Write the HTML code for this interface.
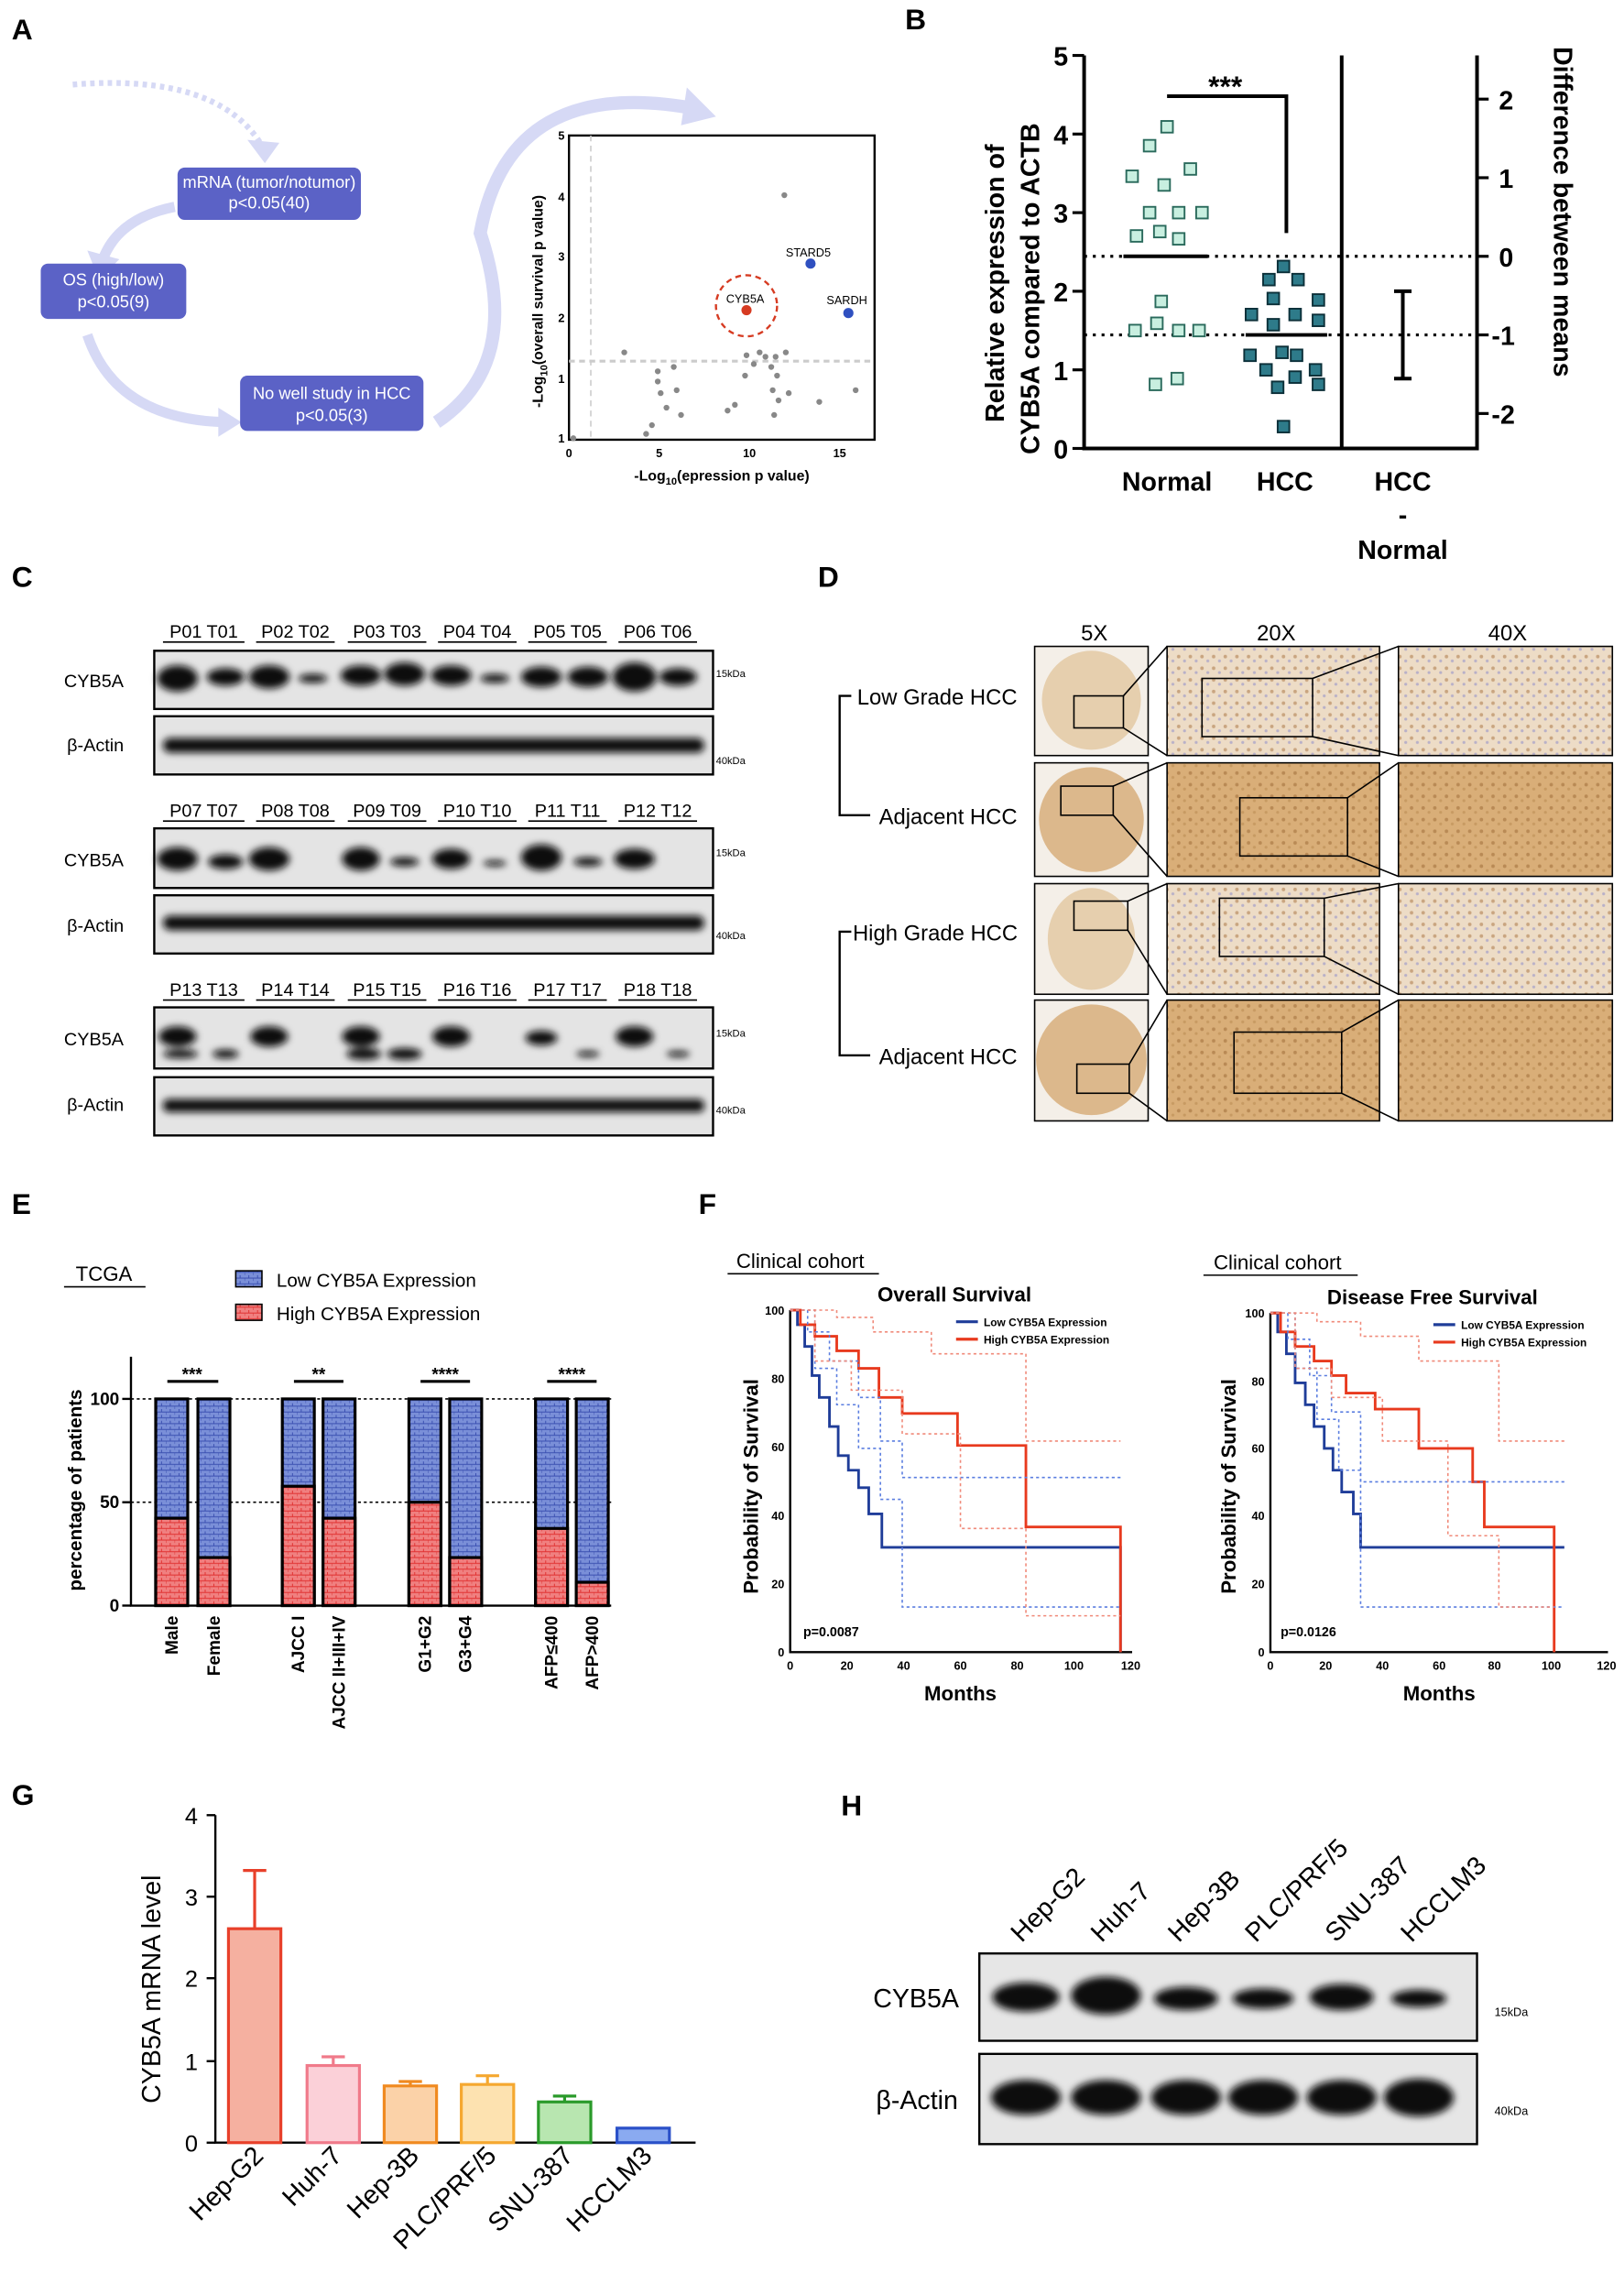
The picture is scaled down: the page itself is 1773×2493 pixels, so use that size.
<!DOCTYPE html>
<html><head><meta charset="utf-8"><style>
html,body{margin:0;padding:0;background:#fff}
svg{display:block}
text{font-family:"Liberation Sans",Arial,sans-serif}
</style></head><body>
<svg width="1773" height="2493" viewBox="0 0 1116 1569" xmlns="http://www.w3.org/2000/svg">
<defs>
<filter id="bl" x="-20%" y="-50%" width="140%" height="200%"><feGaussianBlur stdDeviation="2.5"/></filter>
<pattern id="pb" width="6" height="4" patternUnits="userSpaceOnUse"><rect width="6" height="4" fill="#7a8fd8"/><path d="M0 2H6M3 0V2M0 4V2" stroke="#3a4fb0" stroke-width="0.6"/></pattern>
<pattern id="pr" width="6" height="4" patternUnits="userSpaceOnUse"><rect width="6" height="4" fill="#f08080"/><path d="M0 2H6M3 0V2M0 4V2" stroke="#e03030" stroke-width="0.6"/></pattern>
<pattern id="tan" width="8" height="8" patternUnits="userSpaceOnUse"><rect width="8" height="8" fill="#d9ae78"/><circle cx="2" cy="3" r="1.2" fill="#b98a55"/><circle cx="6" cy="6" r="1" fill="#c79a62"/></pattern>
<pattern id="tanl" width="8" height="8" patternUnits="userSpaceOnUse"><rect width="8" height="8" fill="#eddcc6"/><circle cx="2" cy="3" r="1.2" fill="#c9a580"/><circle cx="6" cy="6" r="1" fill="#b8b0c8"/></pattern>
</defs>
<g font-weight="bold" font-size="20">
<text x="8" y="27">A</text><text x="622" y="20">B</text><text x="8" y="403">C</text><text x="562" y="403">D</text>
<text x="8" y="834">E</text><text x="480" y="834">F</text><text x="8" y="1240">G</text><text x="578" y="1247">H</text>
</g>
<!-- Panel A -->
<g fill="none" stroke="#d6d9f5" stroke-width="7">
<path d="M50 58 Q150 50 180 100" stroke-dasharray="3 3" stroke-width="4"/>
<path d="M120 142 Q80 150 70 180"/>
<path d="M60 230 Q80 290 160 290"/>
<path d="M300 290 Q360 250 330 160 Q350 50 480 75" stroke-width="9"/>
</g>
<g fill="#d6d9f5"><path d="M170 96L192 98L182 112Z"/><path d="M60 172L82 178L68 192Z"/><path d="M150 280L166 290L150 300Z"/><path d="M472 60L492 80L468 86Z"/></g>
<g fill="#5b62c6"><rect x="122" y="115" width="126" height="36" rx="5"/><rect x="28" y="181" width="100" height="38" rx="5"/><rect x="165" y="258" width="126" height="38" rx="5"/></g>
<g fill="#fff" font-size="11.5" text-anchor="middle">
<text x="185" y="129">mRNA (tumor/notumor)</text><text x="185" y="143">p&lt;0.05(40)</text>
<text x="78" y="196">OS (high/low)</text><text x="78" y="211">p&lt;0.05(9)</text>
<text x="228" y="274">No well study in HCC</text><text x="228" y="289">p&lt;0.05(3)</text>
</g>
<rect x="391" y="93" width="210" height="209" fill="none" stroke="#000" stroke-width="1.5"/>
<line x1="406" y1="93" x2="406" y2="302" stroke="#ccc" stroke-dasharray="4 3"/>
<line x1="391" y1="248" x2="601" y2="248" stroke="#ccc" stroke-dasharray="4 3" stroke-width="2"/>
<g fill="#888">
<circle cx="539" cy="134" r="2"/><circle cx="429" cy="242" r="2"/><circle cx="452" cy="255" r="2"/><circle cx="452" cy="262" r="2"/><circle cx="454" cy="270" r="2"/><circle cx="458" cy="280" r="2"/><circle cx="465" cy="268" r="2"/><circle cx="468" cy="285" r="2"/><circle cx="448" cy="292" r="2"/><circle cx="463" cy="252" r="2"/><circle cx="500" cy="282" r="2"/><circle cx="505" cy="278" r="2"/><circle cx="513" cy="244" r="2"/><circle cx="512" cy="258" r="2"/><circle cx="518" cy="250" r="2"/><circle cx="522" cy="242" r="2"/><circle cx="526" cy="245" r="2"/><circle cx="530" cy="252" r="2"/><circle cx="534" cy="258" r="2"/><circle cx="533" cy="245" r="2"/><circle cx="531" cy="268" r="2"/><circle cx="535" cy="275" r="2"/><circle cx="540" cy="242" r="2"/><circle cx="542" cy="270" r="2"/><circle cx="563" cy="276" r="2"/><circle cx="588" cy="268" r="2"/><circle cx="532" cy="285" r="2"/><circle cx="444" cy="298" r="2"/><circle cx="394" cy="301" r="2"/>
</g>
<circle cx="513" cy="213" r="3.5" fill="#d63b22"/><circle cx="513" cy="210" r="21" fill="none" stroke="#d63b22" stroke-width="1.5" stroke-dasharray="4 3"/>
<circle cx="557" cy="181" r="3.5" fill="#2f50c0"/><circle cx="583" cy="215" r="3.5" fill="#2f50c0"/>
<g font-size="8"><text x="499" y="208">CYB5A</text><text x="540" y="176">STARD5</text><text x="568" y="209">SARDH</text></g>
<g font-size="8" font-weight="bold" text-anchor="end"><text x="388" y="96">5</text><text x="388" y="138">4</text><text x="388" y="179">3</text><text x="388" y="221">2</text><text x="388" y="263">1</text><text x="388" y="304">1</text></g>
<g font-size="8" font-weight="bold" text-anchor="middle"><text x="391" y="314">0</text><text x="453" y="314">5</text><text x="515" y="314">10</text><text x="577" y="314">15</text></g>
<text x="496" y="330" font-size="10" font-weight="bold" text-anchor="middle">-Log<tspan font-size="7" dy="3">10</tspan><tspan dy="-3">(epression p value)</tspan></text>
<text transform="translate(373 280) rotate(-90)" font-size="10" font-weight="bold">-Log<tspan font-size="7" dy="3">10</tspan><tspan dy="-3">(overall survival p value)</tspan></text>
<!-- Panel B -->
<g stroke="#000" stroke-width="2.5" fill="none"><path d="M745 38V308H1015V38"/><line x1="922" y1="38" x2="922" y2="308"/></g>
<g stroke="#000" stroke-width="2"><line x1="737" y1="38" x2="745" y2="38"/><line x1="737" y1="92" x2="745" y2="92"/><line x1="737" y1="146" x2="745" y2="146"/><line x1="737" y1="200" x2="745" y2="200"/><line x1="737" y1="254" x2="745" y2="254"/><line x1="737" y1="308" x2="745" y2="308"/>
<line x1="1015" y1="68" x2="1023" y2="68"/><line x1="1015" y1="122" x2="1023" y2="122"/><line x1="1015" y1="176" x2="1023" y2="176"/><line x1="1015" y1="230" x2="1023" y2="230"/><line x1="1015" y1="284" x2="1023" y2="284"/></g>
<g font-size="18" font-weight="bold" text-anchor="end"><text x="734" y="45">5</text><text x="734" y="99">4</text><text x="734" y="153">3</text><text x="734" y="207">2</text><text x="734" y="261">1</text><text x="734" y="315">0</text></g>
<g font-size="18" font-weight="bold"><text x="1030" y="75">2</text><text x="1030" y="129">1</text><text x="1030" y="183">0</text><text x="1025" y="237">-1</text><text x="1025" y="291">-2</text></g>
<g stroke="#000" stroke-width="2" stroke-dasharray="2 4"><line x1="745" y1="176" x2="1015" y2="176"/><line x1="745" y1="230" x2="1015" y2="230"/></g>
<g fill="#c8efe0" stroke="#2a6a5c" stroke-width="1.2">
<rect x="798" y="83" width="8" height="8"/><rect x="786" y="96" width="8" height="8"/><rect x="814" y="112" width="8" height="8"/><rect x="774" y="117" width="8" height="8"/><rect x="796" y="123" width="8" height="8"/><rect x="806" y="142" width="8" height="8"/><rect x="822" y="142" width="8" height="8"/><rect x="786" y="142" width="8" height="8"/><rect x="793" y="155" width="8" height="8"/><rect x="777" y="158" width="8" height="8"/><rect x="806" y="160" width="8" height="8"/><rect x="794" y="203" width="8" height="8"/><rect x="791" y="218" width="8" height="8"/><rect x="776" y="223" width="8" height="8"/><rect x="806" y="223" width="8" height="8"/><rect x="820" y="223" width="8" height="8"/><rect x="790" y="260" width="8" height="8"/><rect x="805" y="256" width="8" height="8"/>
</g>
<g fill="#2e7b8a" stroke="#0b2f38" stroke-width="1.2">
<rect x="878" y="179" width="8" height="8"/><rect x="868" y="188" width="8" height="8"/><rect x="888" y="188" width="8" height="8"/><rect x="871" y="201" width="8" height="8"/><rect x="902" y="202" width="8" height="8"/><rect x="856" y="212" width="8" height="8"/><rect x="886" y="212" width="8" height="8"/><rect x="902" y="216" width="8" height="8"/><rect x="871" y="219" width="8" height="8"/><rect x="855" y="240" width="8" height="8"/><rect x="877" y="238" width="8" height="8"/><rect x="887" y="240" width="8" height="8"/><rect x="900" y="250" width="8" height="8"/><rect x="866" y="250" width="8" height="8"/><rect x="886" y="255" width="8" height="8"/><rect x="874" y="262" width="8" height="8"/><rect x="902" y="260" width="8" height="8"/><rect x="878" y="289" width="8" height="8"/>
</g>
<g stroke="#000" stroke-width="2.5" fill="none"><line x1="772" y1="176" x2="830" y2="176"/><line x1="856" y1="230" x2="912" y2="230"/><path d="M802 66H884V160"/><path d="M958 200H970M964 200V260M958 260H970"/></g>
<text x="842" y="66" font-size="20" font-weight="bold" text-anchor="middle">***</text>
<g font-size="18" font-weight="bold" text-anchor="middle"><text x="802" y="337">Normal</text><text x="883" y="337">HCC</text><text x="964" y="337">HCC</text><text x="964" y="360">-</text><text x="964" y="384">Normal</text></g>
<text transform="translate(690 290) rotate(-90)" font-size="18" font-weight="bold">Relative expression of</text>
<text transform="translate(714 312) rotate(-90)" font-size="18" font-weight="bold">CYB5A compared to ACTB</text>
<text transform="translate(1068 32) rotate(90)" font-size="18" font-weight="bold">Difference between means</text>
<!-- Panel C -->
<g font-size="12.5">
<g text-anchor="middle">
<text x="140" y="438">P01 T01</text><text x="203" y="438">P02 T02</text><text x="266" y="438">P03 T03</text><text x="328" y="438">P04 T04</text><text x="390" y="438">P05 T05</text><text x="452" y="438">P06 T06</text>
<text x="140" y="561">P07 T07</text><text x="203" y="561">P08 T08</text><text x="266" y="561">P09 T09</text><text x="328" y="561">P10 T10</text><text x="390" y="561">P11 T11</text><text x="452" y="561">P12 T12</text>
<text x="140" y="684">P13 T13</text><text x="203" y="684">P14 T14</text><text x="266" y="684">P15 T15</text><text x="328" y="684">P16 T16</text><text x="390" y="684">P17 T17</text><text x="452" y="684">P18 T18</text>
</g>
<text x="44" y="472">CYB5A</text><text x="46" y="516">β-Actin</text><text x="44" y="595">CYB5A</text><text x="46" y="640">β-Actin</text><text x="44" y="718">CYB5A</text><text x="46" y="763">β-Actin</text>
</g>
<g stroke="#000"><path d="M112 441H168M176 441H230M239 441H293M301 441H355M363 441H417M425 441H479M112 564H168M176 564H230M239 564H293M301 564H355M363 564H417M425 564H479M112 687H168M176 687H230M239 687H293M301 687H355M363 687H417M425 687H479"/></g>
<g font-size="7"><text x="492" y="465">15kDa</text><text x="492" y="525">40kDa</text><text x="492" y="588">15kDa</text><text x="492" y="645">40kDa</text><text x="492" y="712">15kDa</text><text x="492" y="765">40kDa</text></g>
<g fill="#e4e4e4" stroke="#000" stroke-width="1.5">
<rect x="106" y="447" width="384" height="40"/><rect x="106" y="492" width="384" height="40"/><rect x="106" y="569" width="384" height="41"/><rect x="106" y="615" width="384" height="40"/><rect x="106" y="692" width="384" height="42"/><rect x="106" y="740" width="384" height="40"/>
</g>
<g fill="#111" filter="url(#bl)">
<ellipse cx="122" cy="466" rx="14" ry="9"/><ellipse cx="155" cy="465" rx="13" ry="6"/><ellipse cx="185" cy="465" rx="14" ry="8"/><ellipse cx="215" cy="466" rx="10" ry="3"/><ellipse cx="248" cy="464" rx="14" ry="7"/><ellipse cx="278" cy="463" rx="14" ry="8"/><ellipse cx="310" cy="464" rx="14" ry="7"/><ellipse cx="340" cy="466" rx="10" ry="3"/><ellipse cx="372" cy="465" rx="14" ry="7"/><ellipse cx="404" cy="465" rx="14" ry="7"/><ellipse cx="436" cy="465" rx="15" ry="10"/><ellipse cx="466" cy="465" rx="13" ry="6"/>
<rect x="112" y="507" width="372" height="10" rx="5"/>
<ellipse cx="122" cy="590" rx="14" ry="8"/><ellipse cx="155" cy="592" rx="12" ry="5"/><ellipse cx="185" cy="590" rx="14" ry="8"/><ellipse cx="248" cy="590" rx="13" ry="8"/><ellipse cx="278" cy="592" rx="10" ry="3"/><ellipse cx="310" cy="590" rx="13" ry="7"/><ellipse cx="340" cy="593" rx="8" ry="2"/><ellipse cx="372" cy="589" rx="14" ry="9"/><ellipse cx="404" cy="592" rx="10" ry="3"/><ellipse cx="436" cy="590" rx="14" ry="7"/>
<rect x="112" y="629" width="372" height="10" rx="5"/>
<ellipse cx="122" cy="712" rx="13" ry="7"/><ellipse cx="124" cy="724" rx="12" ry="3"/><ellipse cx="155" cy="724" rx="9" ry="3"/><ellipse cx="185" cy="712" rx="13" ry="7"/><ellipse cx="248" cy="712" rx="13" ry="7"/><ellipse cx="250" cy="724" rx="12" ry="4"/><ellipse cx="278" cy="724" rx="12" ry="4"/><ellipse cx="310" cy="712" rx="13" ry="7"/><ellipse cx="372" cy="713" rx="11" ry="5"/><ellipse cx="404" cy="724" rx="8" ry="2"/><ellipse cx="436" cy="712" rx="13" ry="7"/><ellipse cx="466" cy="724" rx="8" ry="2"/>
<rect x="112" y="755" width="372" height="9" rx="4"/>
</g>
<!-- Panel D -->
<g font-size="15" text-anchor="middle"><text x="752" y="440">5X</text><text x="877" y="440">20X</text><text x="1036" y="440">40X</text></g>
<g font-size="15"><text x="589" y="484">Low Grade HCC</text><text x="604" y="566">Adjacent HCC</text><text x="586" y="646">High Grade HCC</text><text x="604" y="731">Adjacent HCC</text></g>
<g stroke="#000" stroke-width="1.5" fill="none"><path d="M585 478H577V560H598M585 640H577V725H598"/></g>
<g stroke="#000" stroke-width="1">
<rect x="711" y="444" width="78" height="75" fill="#f4efe8"/><rect x="802" y="444" width="146" height="75" fill="url(#tanl)"/><rect x="961" y="444" width="147" height="75" fill="url(#tanl)"/>
<rect x="711" y="524" width="78" height="78" fill="#f4efe8"/><rect x="802" y="524" width="146" height="78" fill="url(#tan)"/><rect x="961" y="524" width="147" height="78" fill="url(#tan)"/>
<rect x="711" y="607" width="78" height="76" fill="#f4efe8"/><rect x="802" y="607" width="146" height="76" fill="url(#tanl)"/><rect x="961" y="607" width="147" height="76" fill="url(#tanl)"/>
<rect x="711" y="687" width="78" height="83" fill="#f4efe8"/><rect x="802" y="687" width="146" height="83" fill="url(#tan)"/><rect x="961" y="687" width="147" height="83" fill="url(#tan)"/>
</g>
<g fill="#dcb88c" stroke="none"><circle cx="750" cy="481" r="34" fill="#e6cfae"/><circle cx="750" cy="563" r="36"/><ellipse cx="750" cy="645" rx="30" ry="35" fill="#e6cfae"/><circle cx="750" cy="728" r="38"/></g>
<g fill="none" stroke="#000" stroke-width="1"><rect x="738" y="478" width="34" height="22"/><rect x="729" y="540" width="36" height="20"/><rect x="738" y="619" width="37" height="20"/><rect x="740" y="731" width="36" height="20"/>
<rect x="826" y="466" width="76" height="40"/><rect x="852" y="548" width="74" height="40"/><rect x="838" y="617" width="72" height="40"/><rect x="848" y="709" width="74" height="42"/>
<path d="M772 478L802 444M772 500L802 519M765 540L802 524M765 560L802 602M775 619L802 607M775 639L802 683M776 731L802 687M776 751L802 770"/>
<path d="M902 466L961 444M902 506L961 519M926 548L961 524M926 588L961 602M910 617L961 607M910 657L961 683M922 709L961 687M922 751L961 770"/></g>
<!-- Panel E -->
<text x="52" y="880" font-size="14">TCGA</text><line x1="44" y1="884" x2="100" y2="884" stroke="#000"/>
<rect x="162" y="873" width="18" height="11" fill="url(#pb)" stroke="#000"/><rect x="162" y="896" width="18" height="11" fill="url(#pr)" stroke="#000"/>
<text x="190" y="884" font-size="13">Low CYB5A Expression</text><text x="190" y="907" font-size="13">High CYB5A Expression</text>
<g stroke="#000" stroke-width="1.5" fill="none"><path d="M90 932V1103H420"/><line x1="84" y1="961" x2="90" y2="961"/><line x1="84" y1="1032" x2="90" y2="1032"/><line x1="84" y1="1103" x2="90" y2="1103"/></g>
<g stroke="#000" stroke-dasharray="2 2"><line x1="90" y1="961" x2="420" y2="961"/><line x1="90" y1="1032" x2="420" y2="1032"/></g>
<g font-size="12" font-weight="bold" text-anchor="end"><text x="82" y="965">100</text><text x="82" y="1036">50</text><text x="82" y="1107">0</text></g>
<text transform="translate(56 1093) rotate(-90)" font-size="13" font-weight="bold">percentage of patients</text>
<g stroke="#000" stroke-width="2">
<rect x="107" y="961" width="22" height="142" fill="url(#pb)"/><rect x="107" y="1043" width="22" height="60" fill="url(#pr)"/>
<rect x="136" y="961" width="22" height="142" fill="url(#pb)"/><rect x="136" y="1070" width="22" height="33" fill="url(#pr)"/>
<rect x="194" y="961" width="22" height="142" fill="url(#pb)"/><rect x="194" y="1021" width="22" height="82" fill="url(#pr)"/>
<rect x="222" y="961" width="22" height="142" fill="url(#pb)"/><rect x="222" y="1043" width="22" height="60" fill="url(#pr)"/>
<rect x="281" y="961" width="22" height="142" fill="url(#pb)"/><rect x="281" y="1032" width="22" height="71" fill="url(#pr)"/>
<rect x="309" y="961" width="22" height="142" fill="url(#pb)"/><rect x="309" y="1070" width="22" height="33" fill="url(#pr)"/>
<rect x="368" y="961" width="22" height="142" fill="url(#pb)"/><rect x="368" y="1050" width="22" height="53" fill="url(#pr)"/>
<rect x="396" y="961" width="22" height="142" fill="url(#pb)"/><rect x="396" y="1087" width="22" height="16" fill="url(#pr)"/>
</g>
<g stroke="#000" stroke-width="2"><line x1="115" y1="949" x2="150" y2="949"/><line x1="202" y1="949" x2="236" y2="949"/><line x1="289" y1="949" x2="323" y2="949"/><line x1="376" y1="949" x2="410" y2="949"/></g>
<g font-size="12" font-weight="bold" text-anchor="middle"><text x="132" y="948">***</text><text x="219" y="948">**</text><text x="306" y="948">****</text><text x="393" y="948">****</text></g>
<g font-size="12" font-weight="bold" text-anchor="end">
<text transform="translate(122 1110) rotate(-90)">Male</text><text transform="translate(151 1110) rotate(-90)">Female</text><text transform="translate(209 1110) rotate(-90)">AJCC I</text><text transform="translate(237 1110) rotate(-90)">AJCC II+III+IV</text><text transform="translate(296 1110) rotate(-90)">G1+G2</text><text transform="translate(324 1110) rotate(-90)">G3+G4</text><text transform="translate(383 1110) rotate(-90)">AFP≤400</text><text transform="translate(411 1110) rotate(-90)">AFP&gt;400</text>
</g>
<!-- Panel F -->
<g font-size="14"><text x="506" y="871">Clinical cohort</text><text x="834" y="872">Clinical cohort</text></g>
<g stroke="#000"><line x1="500" y1="875" x2="604" y2="875"/><line x1="827" y1="876" x2="933" y2="876"/></g>
<g font-size="14" font-weight="bold"><text x="603" y="894">Overall Survival</text><text x="912" y="896">Disease Free Survival</text></g>
<g>
<g stroke="#000" stroke-width="1.5" fill="none"><path d="M543 900V1135H778"/></g>
<g font-size="8" font-weight="bold" text-anchor="end"><text x="539" y="903">100</text><text x="539" y="950">80</text><text x="539" y="997">60</text><text x="539" y="1044">40</text><text x="539" y="1091">20</text><text x="539" y="1138">0</text></g>
<g font-size="8" font-weight="bold" text-anchor="middle"><text x="543" y="1147">0</text><text x="582" y="1147">20</text><text x="621" y="1147">40</text><text x="660" y="1147">60</text><text x="699" y="1147">80</text><text x="738" y="1147">100</text><text x="777" y="1147">120</text></g>
<text x="660" y="1168" font-size="14" font-weight="bold" text-anchor="middle">Months</text>
<text transform="translate(521 1095) rotate(-90)" font-size="14" font-weight="bold">Probability of Survival</text>
<text x="552" y="1124" font-size="9" font-weight="bold">p=0.0087</text>
<path d="M543 900H548V910H553V925H558V945H563V960H570V980H576V1000H583V1010H590V1022H597V1040H606V1063H616V1063H770V1135" fill="none" stroke="#1f3d99" stroke-width="1.8"/>
<path d="M543 900H550V910H560V918H575V928H590V940H604V960H620V971H640V971H658V993H705V1049H770V1135" fill="none" stroke="#e83a1e" stroke-width="1.8"/>
<path d="M543 900H560V940H575V965H590V995H605V1030H620V1104H770" fill="none" stroke="#5b7ee0" stroke-dasharray="2 2"/>
<path d="M543 900H555V915H570V935H590V960H605V990H620V1015H770" fill="none" stroke="#5b7ee0" stroke-dasharray="2 2"/>
<path d="M543 900H575V905H600V915H640V930H705V990H770" fill="none" stroke="#f08a7a" stroke-dasharray="2 2"/>
<path d="M543 900H560V935H585V955H620V985H660V1050H705V1110H770" fill="none" stroke="#f08a7a" stroke-dasharray="2 2"/>
<g stroke-width="2"><line x1="657" y1="908" x2="672" y2="908" stroke="#1f3d99"/><line x1="657" y1="920" x2="672" y2="920" stroke="#e83a1e"/></g>
<g font-size="7.5" font-weight="bold"><text x="676" y="911">Low  CYB5A Expression</text><text x="676" y="923">High CYB5A Expression</text></g>
</g>
<g>
<g stroke="#000" stroke-width="1.5" fill="none"><path d="M873 902V1135H1105"/></g>
<g font-size="8" font-weight="bold" text-anchor="end"><text x="869" y="905">100</text><text x="869" y="952">80</text><text x="869" y="998">60</text><text x="869" y="1044">40</text><text x="869" y="1091">20</text><text x="869" y="1138">0</text></g>
<g font-size="8" font-weight="bold" text-anchor="middle"><text x="873" y="1147">0</text><text x="911" y="1147">20</text><text x="950" y="1147">40</text><text x="989" y="1147">60</text><text x="1027" y="1147">80</text><text x="1066" y="1147">100</text><text x="1104" y="1147">120</text></g>
<text x="989" y="1168" font-size="14" font-weight="bold" text-anchor="middle">Months</text>
<text transform="translate(849 1095) rotate(-90)" font-size="14" font-weight="bold">Probability of Survival</text>
<text x="880" y="1124" font-size="9" font-weight="bold">p=0.0126</text>
<path d="M873 902H878V915H884V930H890V950H897V965H903V980H910V995H916V1010H922V1025H930V1040H935V1063H1075V1063" fill="none" stroke="#1f3d99" stroke-width="1.8"/>
<path d="M873 902H880V915H890V925H903V935H915V945H925V957H945V968H975V995H1012V1018H1020V1049H1068V1135" fill="none" stroke="#e83a1e" stroke-width="1.8"/>
<path d="M873 902H890V940H905V975H920V1010H935V1104H1075" fill="none" stroke="#5b7ee0" stroke-dasharray="2 2"/>
<path d="M873 902H885V920H900V945H915V970H935V1018H1075" fill="none" stroke="#5b7ee0" stroke-dasharray="2 2"/>
<path d="M873 902H905V908H935V918H975V935H1030V990H1075" fill="none" stroke="#f08a7a" stroke-dasharray="2 2"/>
<path d="M873 902H890V940H915V960H950V990H995V1055H1030V1104H1068" fill="none" stroke="#f08a7a" stroke-dasharray="2 2"/>
<g stroke-width="2"><line x1="985" y1="910" x2="1000" y2="910" stroke="#1f3d99"/><line x1="985" y1="922" x2="1000" y2="922" stroke="#e83a1e"/></g>
<g font-size="7.5" font-weight="bold"><text x="1004" y="913">Low  CYB5A Expression</text><text x="1004" y="925">High CYB5A Expression</text></g>
</g>
<!-- Panel G -->
<g stroke="#000" stroke-width="1.5" fill="none"><path d="M148 1247V1472H478"/>
<line x1="142" y1="1247" x2="148" y2="1247"/><line x1="142" y1="1303" x2="148" y2="1303"/><line x1="142" y1="1359" x2="148" y2="1359"/><line x1="142" y1="1416" x2="148" y2="1416"/><line x1="142" y1="1472" x2="148" y2="1472"/></g>
<g font-size="16" text-anchor="end"><text x="136" y="1253">4</text><text x="136" y="1309">3</text><text x="136" y="1365">2</text><text x="136" y="1422">1</text><text x="136" y="1478">0</text></g>
<text transform="translate(110 1445) rotate(-90)" font-size="18">CYB5A mRNA level</text>
<g stroke-width="2" fill="none">
<rect x="157" y="1325" width="36" height="147" fill="#f5b0a0" stroke="#e8402a"/><path d="M175 1325V1285M167 1285H183" stroke="#e8402a"/>
<rect x="211" y="1419" width="36" height="53" fill="#fbd0d8" stroke="#f07a8a"/><path d="M229 1419V1413M221 1413H237" stroke="#f07a8a"/>
<rect x="264" y="1433" width="36" height="39" fill="#fbd2a8" stroke="#f08a20"/><path d="M282 1433V1430M274 1430H290" stroke="#f08a20"/>
<rect x="317" y="1432" width="36" height="40" fill="#fde2b0" stroke="#f5a830"/><path d="M335 1432V1426M327 1426H343" stroke="#f5a830"/>
<rect x="370" y="1444" width="36" height="28" fill="#b8e6b0" stroke="#2a9a2a"/><path d="M388 1444V1440M380 1440H396" stroke="#2a9a2a"/>
<rect x="424" y="1462" width="36" height="10" fill="#8aaaf0" stroke="#2a50c8"/>
</g>
<g font-size="18" text-anchor="end">
<text transform="translate(182 1482) rotate(-45)">Hep-G2</text><text transform="translate(236 1482) rotate(-45)">Huh-7</text><text transform="translate(289 1482) rotate(-45)">Hep-3B</text><text transform="translate(342 1482) rotate(-45)">PLC/PRF/5</text><text transform="translate(395 1482) rotate(-45)">SNU-387</text><text transform="translate(449 1482) rotate(-45)">HCCLM3</text>
</g>
<!-- Panel H -->
<g font-size="18"><text transform="translate(702 1335) rotate(-45)">Hep-G2</text><text transform="translate(757 1335) rotate(-45)">Huh-7</text><text transform="translate(810 1335) rotate(-45)">Hep-3B</text><text transform="translate(863 1335) rotate(-45)">PLC/PRF/5</text><text transform="translate(918 1335) rotate(-45)">SNU-387</text><text transform="translate(970 1335) rotate(-45)">HCCLM3</text>
<text x="600" y="1379">CYB5A</text><text x="602" y="1449">β-Actin</text></g>
<g font-size="8" font-family="Liberation Serif"><text x="1027" y="1385">15kDa</text><text x="1027" y="1453">40kDa</text></g>
<g stroke="#000" stroke-width="1.5" fill="#e6e6e6"><rect x="673" y="1342" width="342" height="60"/><rect x="673" y="1411" width="342" height="62"/></g>
<g fill="#111" filter="url(#bl)">
<ellipse cx="705" cy="1372" rx="23" ry="10"/><ellipse cx="760" cy="1371" rx="24" ry="13"/><ellipse cx="815" cy="1373" rx="22" ry="8"/><ellipse cx="868" cy="1373" rx="21" ry="7"/><ellipse cx="922" cy="1372" rx="22" ry="9"/><ellipse cx="975" cy="1373" rx="19" ry="6"/>
<ellipse cx="705" cy="1441" rx="24" ry="12"/><ellipse cx="760" cy="1441" rx="24" ry="12"/><ellipse cx="815" cy="1441" rx="24" ry="12"/><ellipse cx="868" cy="1441" rx="24" ry="12"/><ellipse cx="922" cy="1441" rx="24" ry="12"/><ellipse cx="975" cy="1441" rx="24" ry="13"/>
</g>
</svg>
</body></html>
